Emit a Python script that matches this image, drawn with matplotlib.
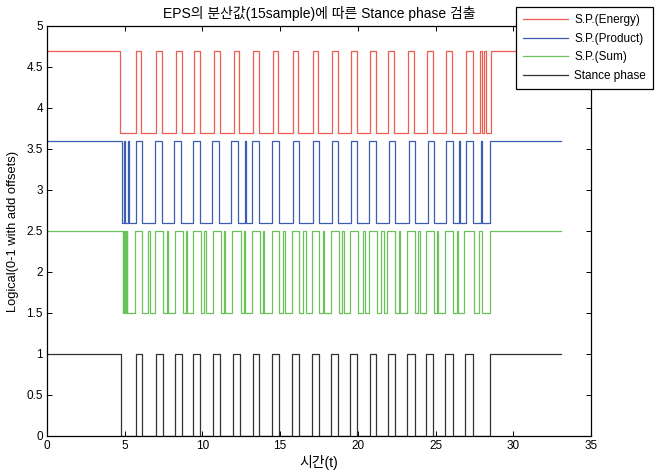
import numpy as np
import matplotlib
matplotlib.use('Agg')
import matplotlib.pyplot as plt

plt.rcParams['font.family'] = ['Liberation Sans', 'Noto Sans CJK KR']

t_end = 33.05

# high pulses (start, end) for each detector
stance_first_fall = 4.75
stance_pulses = [(5.70, 6.10), (7.00, 7.43), (8.26, 8.69), (9.42, 9.87), (10.70, 11.16),
                 (11.97, 12.40), (13.23, 13.66), (14.50, 14.92), (15.78, 16.18), (17.06, 17.49),
                 (18.28, 18.75), (19.52, 19.95), (20.75, 21.18), (21.94, 22.37), (23.19, 23.65),
                 (24.40, 24.86), (25.63, 26.10), (26.90, 27.42)]
stance_last_rise = 28.47

energy_first_fall = 4.72
energy_pulses = [(5.74, 6.04), (7.03, 7.40), (8.29, 8.66), (9.45, 9.84), (10.73, 11.13),
                 (12.00, 12.37), (13.26, 13.63), (14.53, 14.89), (15.81, 16.15), (17.09, 17.46),
                 (18.31, 18.72), (19.55, 19.92), (20.78, 21.15), (21.97, 22.34), (23.22, 23.62),
                 (24.43, 24.83), (25.66, 26.07), (26.93, 27.40), (27.87, 27.98), (28.09, 28.24)]
energy_last_rise = 28.56

product_first_fall = 4.85
product_pulses = [(4.95, 5.02), (5.20, 5.28), (5.72, 6.08), (6.94, 7.37), (8.18, 8.61),
                  (9.40, 9.83), (10.64, 11.07), (11.86, 12.29), (12.75, 12.80), (13.20, 13.63),
                  (14.47, 14.90), (15.82, 16.20), (17.10, 17.50), (18.35, 18.75), (19.57, 19.97),
                  (20.74, 21.15), (22.03, 22.40), (23.27, 23.68), (24.49, 24.88), (25.67, 26.10),
                  (26.53, 26.58), (26.96, 27.40), (27.92, 27.98)]
product_last_rise = 28.52

sum_first_fall = 4.86
sum_pulses = [(4.92, 4.97), (5.03, 5.08), (5.12, 5.16), (5.65, 6.10), (6.50, 6.60),
              (6.95, 7.45), (7.72, 7.80), (8.22, 8.72), (8.95, 9.03), (9.40, 9.92),
              (10.12, 10.20), (10.66, 11.18), (11.40, 11.48), (11.93, 12.45), (12.66, 12.74),
              (13.20, 13.70), (13.90, 13.98), (14.46, 14.95), (15.20, 15.28), (15.75, 16.22),
              (16.50, 16.64), (17.02, 17.52), (17.75, 17.83), (18.25, 18.78), (19.00, 19.08),
              (19.48, 19.98), (20.36, 20.44), (20.70, 21.22), (21.50, 21.68), (21.90, 22.40),
              (22.65, 22.73), (23.15, 23.68), (23.90, 23.98), (24.36, 24.90), (25.10, 25.18),
              (25.60, 26.12), (26.35, 26.43), (26.86, 27.45), (27.82, 27.98)]
sum_last_rise = 28.48

offsets = [3.7, 2.6, 1.5, 0.0]
labels = ['S.P.(Energy)', 'S.P.(Product)', 'S.P.(Sum)', 'Stance phase']
colors = ['#ee5c52', '#3c5eb0', '#6cc25a', '#333333']


def step_series(first_fall, pulses, last_rise):
    edges = [0.0, first_fall]
    for a, b in pulses:
        edges += [a, b]
    edges += [last_rise, t_end]
    x = []
    y = []
    level = 1
    for i in range(len(edges) - 1):
        x += [edges[i], edges[i + 1]]
        y += [level, level]
        level = 1 - level
    return np.array(x), np.array(y)


series = [
    (energy_first_fall, energy_pulses, energy_last_rise),
    (product_first_fall, product_pulses, product_last_rise),
    (sum_first_fall, sum_pulses, sum_last_rise),
    (stance_first_fall, stance_pulses, stance_last_rise),
]

fig = plt.figure(figsize=(6.55, 4.74), dpi=100)
ax = fig.add_axes([0.0718, 0.0802, 0.8305, 0.865])

for (ff, pp, lr), off, lab, col in zip(series, offsets, labels, colors):
    x, y = step_series(ff, pp, lr)
    ax.plot(x, y + off, color=col, lw=0.9, label=lab)

ax.set_xlim(0, 35)
ax.set_ylim(0, 5)
ax.set_xticks(np.arange(0, 36, 5))
ax.set_yticks(np.arange(0, 5.01, 0.5))
ax.set_yticklabels(['0', '0.5', '1', '1.5', '2', '2.5', '3', '3.5', '4', '4.5', '5'])
ax.tick_params(direction='in', top=True, right=True, labelsize=8.5, length=3.5, width=0.7, pad=3)
for s in ax.spines.values():
    s.set_linewidth(0.9)

ax.set_title('EPS의 분산값(15sample)에 따른 Stance phase 검출', fontsize=10, pad=6)
ax.set_xlabel('시간(t)', fontsize=10, labelpad=2)
ax.set_ylabel('Logical(0-1 with add offsets)', fontsize=9.3, labelpad=5)

leg = ax.legend(loc='upper right', bbox_to_anchor=(0.997, 0.985), bbox_transform=fig.transFigure,
                fontsize=8.5, frameon=True, fancybox=False, framealpha=1, edgecolor='black',
                handlelength=3.8, borderpad=0.6, labelspacing=0.55, handletextpad=0.55,
                borderaxespad=0)
leg.get_frame().set_linewidth(0.9)

fig.savefig('out.png', dpi=100)
